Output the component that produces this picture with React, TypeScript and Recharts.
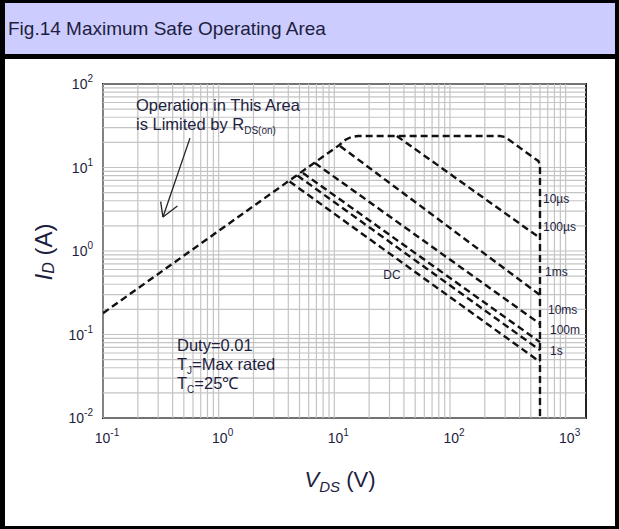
import React from "react";
import {
  LineChart,
  Line,
  XAxis,
  YAxis,
  ReferenceLine,
  ReferenceArea,
} from "recharts";

const W = 619;
const H = 529;

// axis ticks (decades) and log grid
const xTicks = [0.1, 1, 10, 100, 1000];
const yTicks = [0.01, 0.1, 1, 10, 100];
const xGrid = [
  0.1, 0.2, 0.3, 0.4, 0.5, 0.6, 0.7, 0.8, 0.9,
  1, 2, 3, 4, 5, 6, 7, 8, 9,
  10, 20, 30, 40, 50, 60, 70, 80, 90,
  100, 200, 300, 400, 500, 600, 700, 800, 900, 1000,
];
const yGrid = [
  0.01, 0.02, 0.03, 0.04, 0.05, 0.06, 0.07, 0.08, 0.09,
  0.1, 0.2, 0.3, 0.4, 0.5, 0.6, 0.7, 0.8, 0.9,
  1, 2, 3, 4, 5, 6, 7, 8, 9,
  10, 20, 30, 40, 50, 60, 70, 80, 90, 100,
];

// SOA boundary: RDS(on) limit, current limit, 10us, BVDSS
const limit10us = [
  { v: 0.1, i: 0.18 },
  { v: 11, i: 18.5 },
  { v: 12.5, i: 21.5 },
  { v: 14, i: 23.2 },
  { v: 16, i: 23.8 },
  { v: 270, i: 23.8 },
  { v: 300, i: 23.2 },
  { v: 540, i: 12.8 },
  { v: 580, i: 12.0 },
  { v: 600, i: 10.8 },
  { v: 600, i: 0.01 },
];
const line100us = [
  { v: 34.7, i: 23.8 },
  { v: 600, i: 1.43 },
];
const line1ms = [
  { v: 11.2, i: 18.1 },
  { v: 600, i: 0.297 },
];
const line10ms = [
  { v: 6.8, i: 11.3 },
  { v: 600, i: 0.134 },
];
const line100ms = [
  { v: 5.35, i: 8.6 },
  { v: 600, i: 0.081 },
];
const line1s = [
  { v: 4.8, i: 8.0 },
  { v: 600, i: 0.065 },
];
const lineDC = [
  { v: 4.1, i: 6.8 },
  { v: 600, i: 0.047 },
];

const pulseLabels = [
  { text: "10µs", x: 543, y: 203 },
  { text: "100µs", x: 543, y: 231 },
  { text: "1ms", x: 545, y: 276 },
  { text: "10ms", x: 548, y: 314 },
  { text: "100m", x: 550, y: 334 },
  { text: "1s", x: 550, y: 355 },
];

// annotation arrow (data coordinates)
const arrowShaft = [
  { x: 0.565, y: 22.5 },
  { x: 0.33, y: 2.55 },
];
const arrowHeadA = [
  { x: 0.315, y: 3.9 },
  { x: 0.33, y: 2.55 },
];
const arrowHeadB = [
  { x: 0.44, y: 3.45 },
  { x: 0.33, y: 2.55 },
];

const FONT = "'Liberation Sans', Arial, sans-serif";
const INK = "#1e1e40";

const dash = {
  stroke: "#111",
  strokeWidth: 2.4,
  strokeDasharray: "7 4",
  dot: false,
  isAnimationActive: false,
  type: "linear" as const,
};

const XTick = (props: any) => {
  const { x, payload } = props;
  const exp = Math.round(Math.log10(payload.value));
  return (
    <text x={x + 4} y={443} textAnchor="middle" fontFamily={FONT} fontSize={14} fill={INK}>
      10
      <tspan dy={-7} fontSize={10}>
        {exp}
      </tspan>
    </text>
  );
};

const YTick = (props: any) => {
  const { y, payload } = props;
  const exp = Math.round(Math.log10(payload.value));
  return (
    <text x={93} y={y + 5} textAnchor="end" fontFamily={FONT} fontSize={14} fill={INK}>
      10
      <tspan dy={-7} fontSize={10}>
        {exp}
      </tspan>
    </text>
  );
};

export default function App() {
  return (
    <div
      style={{
        position: "absolute",
        left: 0,
        top: 0,
        width: W,
        height: H,
        background: "#fff",
        overflow: "hidden",
      }}
    >
      {/* frame */}
      <div
        style={{
          position: "absolute",
          left: 0,
          top: 0,
          width: W,
          height: H,
          boxSizing: "border-box",
          borderTop: "3px solid #000",
          borderLeft: "5px solid #000",
          borderRight: "4px solid #000",
          borderBottom: "3px solid #000",
        }}
      />
      <div
        style={{
          position: "absolute",
          left: 5,
          top: 3,
          width: W - 9,
          height: 51,
          background: "#ccccff",
          borderBottom: "5px solid #000",
        }}
      >
        <div
          style={{
            position: "absolute",
            left: 3,
            top: 15,
            fontFamily: FONT,
            fontSize: 19,
            color: INK,
            whiteSpace: "nowrap",
          }}
        >
          Fig.14 Maximum Safe Operating Area
        </div>
      </div>

      <div style={{ position: "absolute", left: 0, top: 0 }}>
        <LineChart
          width={W}
          height={H}
          margin={{ top: 84, right: 33, left: 63, bottom: 81 }}
        >
          <XAxis
            dataKey="v"
            type="number"
            scale="log"
            domain={[0.1, 1500]}
            allowDataOverflow
            ticks={xTicks}
            tick={(p: any) => <XTick {...p} />}
            axisLine={false}
            tickLine={false}
            height={30}
          />
          <YAxis
            dataKey="i"
            type="number"
            scale="log"
            domain={[0.01, 100]}
            allowDataOverflow
            ticks={yTicks}
            tick={(p: any) => <YTick {...p} />}
            axisLine={false}
            tickLine={false}
            width={40}
          />
          {xGrid.map((g) => (
            <ReferenceLine key={"x" + g} x={g} stroke="#c4c4c4" strokeWidth={1.2} />
          ))}
          {yGrid.map((g) => (
            <ReferenceLine key={"y" + g} y={g} stroke="#c4c4c4" strokeWidth={1.2} />
          ))}
          <ReferenceArea
            x1={0.1}
            x2={1500}
            y1={0.01}
            y2={100}
            fill="none"
            fillOpacity={0}
            stroke="#222"
            strokeWidth={2}
          />
          <ReferenceLine segment={arrowShaft} stroke="#222" strokeWidth={1.3} />
          <ReferenceLine segment={arrowHeadA} stroke="#222" strokeWidth={1.3} />
          <ReferenceLine segment={arrowHeadB} stroke="#222" strokeWidth={1.3} />
          <Line data={limit10us} dataKey="i" {...dash} />
          <Line data={line100us} dataKey="i" {...dash} />
          <Line data={line1ms} dataKey="i" {...dash} />
          <Line data={line10ms} dataKey="i" {...dash} />
          <Line data={line100ms} dataKey="i" {...dash} />
          <Line data={line1s} dataKey="i" {...dash} />
          <Line data={lineDC} dataKey="i" {...dash} />
        </LineChart>
      </div>

      {/* annotations */}
      <svg
        width={W}
        height={H}
        style={{ position: "absolute", left: 0, top: 0, pointerEvents: "none" }}
        fontFamily={FONT}
        fill={INK}
      >
        <text x={136} y={111} fontSize={16.5}>
          Operation in This Area
        </text>
        <text x={136} y={130} fontSize={16.5}>
          is Limited by R
          <tspan fontSize={10} dy={4}>
            DS(on)
          </tspan>
        </text>

        <text x={177} y={351} fontSize={16.5}>
          Duty=0.01
        </text>
        <text x={177} y={370} fontSize={16.5}>
          T
          <tspan fontSize={10} dy={4}>
            J
          </tspan>
          <tspan dy={-4}>=Max rated</tspan>
        </text>
        <text x={177} y={389} fontSize={16.5}>
          T
          <tspan fontSize={10} dy={4}>
            C
          </tspan>
          <tspan dy={-4}>=25℃</tspan>
        </text>

        {pulseLabels.map((l) => (
          <text key={l.text} x={l.x} y={l.y} fontSize={12}>
            {l.text}
          </text>
        ))}
        <text x={392} y={279} fontSize={12} textAnchor="middle">
          DC
        </text>

        <text
          x={43}
          y={252}
          fontSize={24}
          textAnchor="middle"
          dominantBaseline="central"
          transform="rotate(-90 43 252)"
        >
          <tspan fontStyle="italic">I</tspan>
          <tspan fontStyle="italic" fontSize={16} dy={5}>
            D
          </tspan>
          <tspan dy={-5}> (A)</tspan>
        </text>

        <text x={340} y={487} fontSize={22} textAnchor="middle">
          <tspan fontStyle="italic">V</tspan>
          <tspan fontStyle="italic" fontSize={15} dy={5}>
            DS
          </tspan>
          <tspan dy={-5}> (V)</tspan>
        </text>
      </svg>
    </div>
  );
}
